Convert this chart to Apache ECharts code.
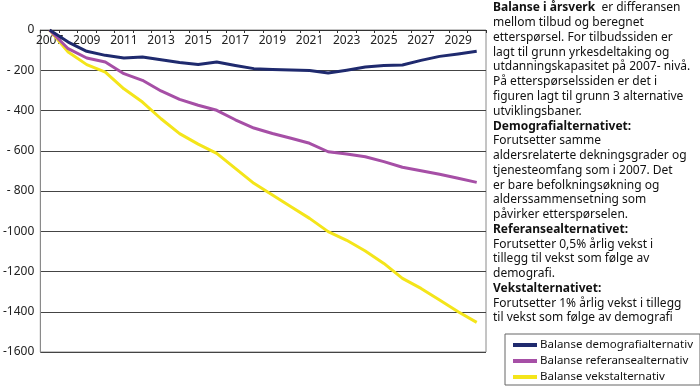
<!DOCTYPE html>
<html>
<head>
<meta charset="utf-8">
<script src="https://cdn.jsdelivr.net/npm/echarts@6/dist/echarts.min.js"></script>
<style>html,body{margin:0;padding:0;background:#fff}#c{width:700px;height:387px}</style>
</head>
<body>
<div id="c"></div>
<script>
var years = ['2007','2008','2009','2010','2011','2012','2013','2014','2015','2016','2017','2018','2019','2020','2021','2022','2023','2024','2025','2026','2027','2028','2029','2030'];
var demografi = [0,-60,-106,-126,-139,-134,-148,-162,-171,-159,-176,-192,-196,-199,-201,-214,-200,-184,-176,-174,-151,-131,-119,-106];
var referanse = [0,-93,-139,-159,-217,-250,-303,-345,-374,-399,-446,-487,-514,-538,-563,-605,-616,-630,-654,-682,-699,-717,-737,-757];
var vekst = [0,-109,-172,-209,-292,-358,-441,-515,-567,-613,-688,-762,-820,-878,-936,-1002,-1045,-1098,-1160,-1234,-1284,-1342,-1400,-1453];
var seriesNames = ['Balanse demografialternativ','Balanse referansealternativ','Balanse vekstalternativ'];
var noteLines = [
  [['b','Balanse i årsverk'],['n','  er differansen']],
  [['n','mellom tilbud og beregnet']],
  [['n','etterspørsel. For tilbudssiden er']],
  [['n','lagt til grunn yrkesdeltaking og']],
  [['n','utdanningskapasitet på 2007- nivå.']],
  [['n','På etterspørselssiden er det i']],
  [['n','figuren lagt til grunn 3 alternative']],
  [['n','utviklingsbaner.']],
  [['b','Demografialternativet:']],
  [['n','Forutsetter samme']],
  [['n','aldersrelaterte dekningsgrader og']],
  [['n','tjenesteomfang som i 2007. Det']],
  [['n','er bare befolkningsøkning og']],
  [['n','alderssammensetning som']],
  [['n','påvirker etterspørselen.']],
  [['b','Referansealternativet:']],
  [['n','Forutsetter 0,5% årlig vekst i']],
  [['n','tillegg til vekst som følge av']],
  [['n','demografi.']],
  [['b','Vekstalternativet:']],
  [['n','Forutsetter 1% årlig vekst i tillegg']],
  [['n','til vekst som følge av demografi']]
];

var FONT = '"Liberation Sans", Arial, sans-serif';
var NFONT = '"Noto Sans", "Liberation Sans", sans-serif';
var colors = ['#1f2a6e','#a64fa6','#f4e51a'];

var graphics = noteLines.map(function(parts, i){
  var txt = parts.map(function(p){ return '{' + p[0] + '|' + p[1] + '}'; }).join('');
  return {
    type: 'text', left: 493, top: i * 14.76 + 2,
    style: {
      text: txt, fill: '#111', font: '12px ' + NFONT,
      rich: {
        b: { fontWeight: 'bold', fontSize: 12, lineHeight: 14, fontFamily: NFONT, fill: '#111' },
        n: { fontSize: 12, lineHeight: 14, fontFamily: NFONT, fill: '#111' }
      }
    }
  };
});

var chart = echarts.init(document.getElementById('c'), null, {renderer:'canvas'});
chart.setOption({
  animation: false,
  backgroundColor: '#fff',
  textStyle: { fontFamily: FONT },
  grid: { left: 36, right: 214, top: 30, bottom: 35, show: true, borderColor: '#8a8a8a', borderWidth: 1 },
  legend: {
    orient: 'vertical', left: 505, top: 334,
    padding: [4, 7, 1, 8], itemGap: 2,
    borderColor: '#666', borderWidth: 1,
    icon: 'rect', itemWidth: 24, itemHeight: 4,
    textStyle: { fontSize: 11.5, lineHeight: 14, color: '#111', fontFamily: NFONT, padding: [0,0,0,-2] },
    data: seriesNames
  },
  xAxis: {
    type: 'category', data: years, position: 'top', boundaryGap: true,
    axisLine: { show: true, lineStyle: { color: '#333', width: 1 } },
    axisTick: { show: true, inside: true, length: 3, interval: 0, lineStyle: { color: '#333' } },
    axisLabel: { inside: true, interval: 1, margin: 5, fontSize: 12, color: '#222', fontFamily: NFONT },
    splitLine: { show: false }
  },
  yAxis: {
    type: 'value', min: -1600, max: 0, interval: 200,
    axisLine: { show: true, lineStyle: { color: '#8a8a8a' } },
    axisTick: { show: false },
    axisLabel: {
      fontSize: 12, color: '#222', margin: 6, fontFamily: NFONT,
      formatter: function(v){ if (v === 0) return '0'; return v <= -1000 ? '-' + Math.abs(v) : '- ' + Math.abs(v); }
    },
    splitLine: { show: true, lineStyle: { color: '#444', width: 1 } }
  },
  series: [
    { name: seriesNames[0], type: 'line', data: demografi, symbol: 'none', lineStyle: { width: 3, color: colors[0], join: 'round' }, itemStyle: { color: colors[0] }, z: 4 },
    { name: seriesNames[1], type: 'line', data: referanse, symbol: 'none', lineStyle: { width: 3, color: colors[1], join: 'round' }, itemStyle: { color: colors[1] }, z: 3 },
    { name: seriesNames[2], type: 'line', data: vekst, symbol: 'none', lineStyle: { width: 3, color: colors[2], join: 'round' }, itemStyle: { color: colors[2] }, z: 2 }
  ],
  graphic: graphics
});
</script>
</body>
</html>
